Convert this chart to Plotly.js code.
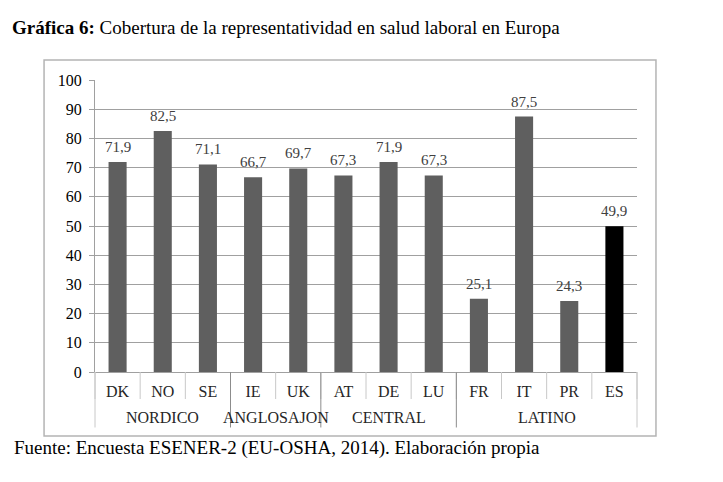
<!DOCTYPE html>
<html>
<head>
<meta charset="utf-8">
<script src="https://cdn.plot.ly/plotly-3.0.1.min.js"></script>
<style>
  html, body { margin: 0; padding: 0; background: #ffffff; }
  #chart { width: 723px; height: 482px; }
</style>
</head>
<body>
<div id="chart"></div>
<script>
// ---- data ----
var countries = ['DK', 'NO', 'SE', 'IE', 'UK', 'AT', 'DE', 'LU', 'FR', 'IT', 'PR', 'ES'];
var coverage = [71.9, 82.5, 71.1, 66.7, 69.7, 67.3, 71.9, 67.3, 25.1, 87.5, 24.3, 49.9];
var groups = ['NORDICO', 'ANGLOSAJON', 'CENTRAL', 'LATINO'];
var groupSizes = [3, 2, 3, 4];
var highlight = 'ES';
var yTicks = [0, 10, 20, 30, 40, 50, 60, 70, 80, 90, 100];

// ---- styling ----
var serif = 'Liberation Serif';
var gridCol = '#a0a0a0';
var barCol = '#5f5f5f';

var colors = countries.map(function (c) { return c === highlight ? '#000000' : barCol; });

var trace = {
  type: 'bar',
  x: countries,
  y: coverage,
  width: 0.4,
  marker: { color: colors, line: { width: 0 } },
  hoverinfo: 'x+y'
};

var shapes = [];
var annotations = [];

// value labels above bars (comma decimal)
for (var k = 0; k < countries.length; k++) {
  annotations.push({
    xref: 'x', yref: 'y', x: countries[k], y: coverage[k],
    text: coverage[k].toFixed(1).replace('.', ','),
    showarrow: false, xanchor: 'center', yanchor: 'bottom', yshift: 5,
    font: { family: serif, size: 15, color: '#404040' }
  });
}

// category separators below the axis
for (var i = 0; i <= countries.length; i++) {
  var edge = (i === 0 || i === countries.length);
  shapes.push({
    type: 'line',
    xref: edge ? 'paper' : 'x',
    x0: edge ? (i === 0 ? 0 : 1) : i - 0.5,
    x1: edge ? (i === 0 ? 0 : 1) : i - 0.5,
    yref: 'paper', y0: 0, y1: -0.0925,
    line: { color: '#c8c8c8', width: 1 }
  });
}

// group separators and group labels
var start = 0;
for (var g = 0; g < groups.length; g++) {
  var bnd = start - 0.5;
  shapes.push({
    type: 'line',
    xref: g === 0 ? 'paper' : 'x',
    x0: g === 0 ? 0 : bnd, x1: g === 0 ? 0 : bnd,
    yref: 'paper', y0: 0, y1: -0.19,
    line: { color: g === 0 ? '#c8c8c8' : '#8c8c8c', width: 1 }
  });
  annotations.push({
    xref: 'x', x: start + (groupSizes[g] - 1) / 2,
    yref: 'paper', y: -0.1575, yanchor: 'middle', xanchor: 'center',
    text: groups[g], showarrow: false,
    font: { family: serif, size: 16, color: '#262626' }
  });
  start += groupSizes[g];
}
shapes.push({
  type: 'line', xref: 'paper', x0: 1, x1: 1,
  yref: 'paper', y0: 0, y1: -0.19,
  line: { color: '#c8c8c8', width: 1 }
});

// outer chart border
shapes.push({
  type: 'rect', xref: 'paper', yref: 'paper',
  x0: -0.094, x1: 1.035, y0: -0.219, y1: 1.0685,
  line: { color: '#b4b4b4', width: 1.5 }, fillcolor: 'rgba(0,0,0,0)', layer: 'below'
});

// footer source
annotations.push({
  xref: 'paper', yref: 'paper', x: -0.153, y: -0.26,
  xanchor: 'left', yanchor: 'middle', showarrow: false,
  text: 'Fuente: Encuesta ESENER-2 (EU-OSHA, 2014). Elaboración propia',
  font: { family: serif, size: 19, color: '#000000' }
});

var layout = {
  width: 723,
  height: 482,
  margin: { l: 95, r: 86, t: 80, b: 110 },
  paper_bgcolor: '#ffffff',
  plot_bgcolor: '#ffffff',
  showlegend: false,
  font: { family: serif },
  title: {
    text: '<b>Gráfica 6:</b> Cobertura de la representatividad en salud laboral en Europa',
    font: { family: serif, size: 19, color: '#000000' },
    x: 0.0166, xanchor: 'left', xref: 'container',
    y: 0.944, yanchor: 'middle', yref: 'container'
  },
  xaxis: {
    type: 'category',
    range: [-0.5, countries.length - 0.5],
    showgrid: false,
    showline: true, linecolor: gridCol, linewidth: 1,
    ticks: '',
    tickfont: { family: serif, size: 16, color: '#262626' },
    ticklabelstandoff: 5,
    fixedrange: true
  },
  yaxis: {
    range: [0, 100],
    tickvals: yTicks,
    showgrid: true, gridcolor: gridCol, gridwidth: 1,
    zeroline: false,
    showline: true, linecolor: gridCol, linewidth: 1,
    ticks: 'outside', ticklen: 5, tickcolor: gridCol,
    tickfont: { family: serif, size: 16, color: '#000000' },
    ticklabelstandoff: 4,
    fixedrange: true
  },
  shapes: shapes,
  annotations: annotations
};

Plotly.newPlot('chart', [trace], layout, { displayModeBar: false, staticPlot: true });
</script>
</body>
</html>
